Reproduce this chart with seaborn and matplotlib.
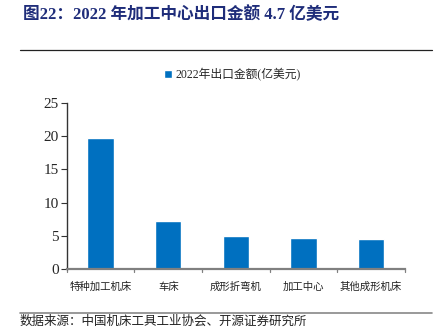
import matplotlib
matplotlib.use("Agg")
import matplotlib.pyplot as plt
import seaborn as sns
import pandas as pd
import numpy as np

categories = ["特种加工机床", "车床", "成形折弯机", "加工中心", "其他成形机床"]
values = [19.7, 7.3, 5.0, 4.7, 4.5]
series_name = "2022年出口金额(亿美元)"
yticks = [0, 5, 10, 15, 20, 25]

title = "图22：2022 年加工中心出口金额 4.7 亿美元"
source = "数据来源：中国机床工具工业协会、开源证券研究所"

sns.set_theme(style="white")
plt.rcParams["font.family"] = ["Liberation Serif", "Noto Sans CJK SC", "DejaVu Sans"]

df = pd.DataFrame({"类别": categories, "金额": values})

fig = plt.figure(figsize=(4.4, 3.29), dpi=100)
ax = fig.add_axes([0.152, 0.182, 0.768, 0.505])

bar_color = "#0070C0"
sns.barplot(data=df, x="类别", y="金额", color=bar_color, width=0.39,
            saturation=1, ax=ax, label=series_name)

ax.set_ylim(0, 25)
ax.set_xlim(-0.5, len(categories) - 0.5)
ax.set_yticks(yticks)
ax.set_yticklabels([str(v) for v in yticks], fontsize=11, family="Liberation Serif")
ax.set_xticks(range(len(categories)))
ax.set_xticklabels(categories, fontsize=7.5, family=["Noto Sans CJK SC"], color="#222222")
ax.set_xlabel("")
ax.set_ylabel("")

for s in ["top", "right"]:
    ax.spines[s].set_visible(False)
ax.spines["left"].set_color("#333333")
ax.spines["left"].set_linewidth(1.0)
ax.spines["bottom"].set_color("#808080")
ax.spines["bottom"].set_linewidth(1.6)

ax.tick_params(axis="y", left=True, length=4, width=0.8, color="#333333", pad=2)
ax.tick_params(axis="x", bottom=False, pad=3)
# boundary ticks between categories
for b in np.arange(-0.5, len(categories), 1.0):
    ax.plot([b, b], [0, -0.5], color="#808080", lw=0.9, clip_on=False)

leg = ax.legend(loc="center", bbox_to_anchor=(0.49, 1.17), frameon=False,
                handlelength=0.7, handleheight=0.7, handletextpad=0.3,
                prop={"family": ["Liberation Serif", "Noto Sans CJK SC"], "size": 8.5})

fig.text(0.052, 0.955, title, fontsize=12, fontweight="bold", color="#1f2d7a",
         family=["Liberation Serif", "Noto Sans CJK SC"], va="center", ha="left")
fig.add_artist(plt.Line2D([0.045, 0.982], [0.848, 0.848], color="#222222", lw=0.9))
fig.add_artist(plt.Line2D([0.045, 0.982], [0.050, 0.050], color="#888888", lw=1.2))
fig.text(0.045, 0.022, source, fontsize=9, color="#222222",
         family=["Noto Sans CJK SC"], va="center", ha="left")

fig.savefig("out.png", dpi=100)
